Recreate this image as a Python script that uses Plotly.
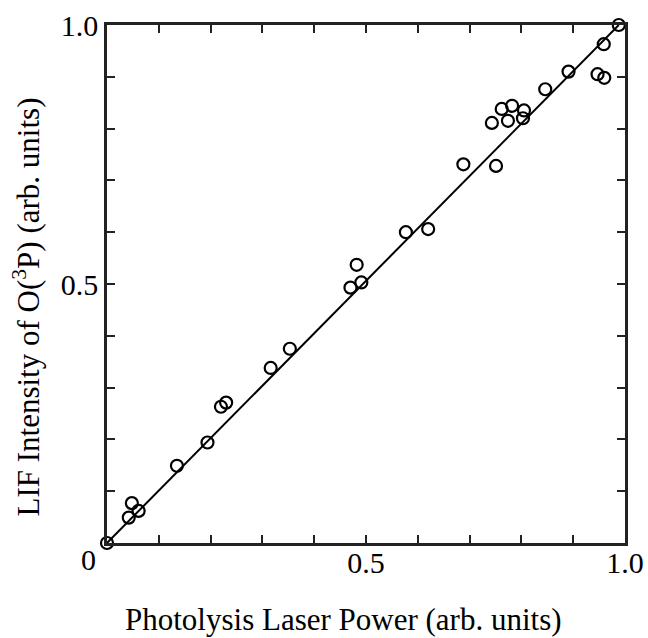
import plotly.graph_objects as go

# Data
power = [0.0, 0.042, 0.048, 0.061, 0.135, 0.194, 0.220, 0.230, 0.316, 0.353,
         0.470, 0.482, 0.491, 0.577, 0.620, 0.688, 0.743, 0.751, 0.762, 0.774,
         0.782, 0.803, 0.805, 0.846, 0.891, 0.947, 0.959, 0.960, 0.988]
lif = [0.0, 0.049, 0.077, 0.062, 0.149, 0.194, 0.263, 0.271, 0.338, 0.375,
       0.493, 0.537, 0.503, 0.600, 0.606, 0.731, 0.811, 0.728, 0.838, 0.815,
       0.844, 0.820, 0.835, 0.876, 0.910, 0.905, 0.963, 0.898, 1.0]
fit_x = [0.0, 0.988]
fit_y = [0.0, 1.0]

tick_vals = [i / 10 for i in range(11)]
x_tick_text = ["" if v not in (0.5, 1.0) else ("0.5" if v == 0.5 else "1.0") for v in tick_vals]
y_tick_text = list(x_tick_text)

FONT = "Liberation Serif, Times New Roman, serif"

fig = go.Figure()
fig.add_trace(go.Scatter(x=fit_x, y=fit_y, mode="lines",
                         line=dict(color="black", width=2), showlegend=False,
                         cliponaxis=False))
fig.add_trace(go.Scatter(x=power, y=lif, mode="markers",
                         marker=dict(symbol="circle-open", size=12, color="black",
                                     line=dict(width=2.2, color="black")),
                         showlegend=False, cliponaxis=False))

axis_common = dict(range=[0, 1], showgrid=False, zeroline=False, automargin=False,
                   showline=True, linecolor="#222", linewidth=2.5, mirror="ticks",
                   ticks="inside", ticklen=8, tickwidth=2, tickcolor="#222",
                   tickvals=tick_vals, fixedrange=True,
                   tickfont=dict(family=FONT, size=30, color="black"))

fig.update_layout(
    width=648, height=638,
    margin=dict(l=107, r=23, t=25, b=95),
    paper_bgcolor="white", plot_bgcolor="white",
    font=dict(family=FONT, size=30, color="black"),
    xaxis=dict(**axis_common, ticktext=x_tick_text, ticklabelstandoff=-9),
    yaxis=dict(**axis_common, ticktext=y_tick_text),
    annotations=[
        dict(text="0", xref="paper", yref="paper", x=-0.018, y=-0.032,
             xanchor="right", yanchor="middle", showarrow=False,
             font=dict(family=FONT, size=30, color="black")),
        dict(text="Photolysis Laser Power (arb. units)", xref="paper", yref="paper",
             x=0.4556, y=-0.148, xanchor="center", yanchor="middle", showarrow=False,
             font=dict(family=FONT, size=31, color="black")),
        dict(text="LIF Intensity of O(<sup>3</sup>P) (arb. units)", xref="paper", yref="paper",
             x=-0.156, y=0.455, xanchor="center", yanchor="middle", showarrow=False,
             textangle=-90, font=dict(family=FONT, size=31, color="black")),
    ],
)

fig.write_html("out.html")
